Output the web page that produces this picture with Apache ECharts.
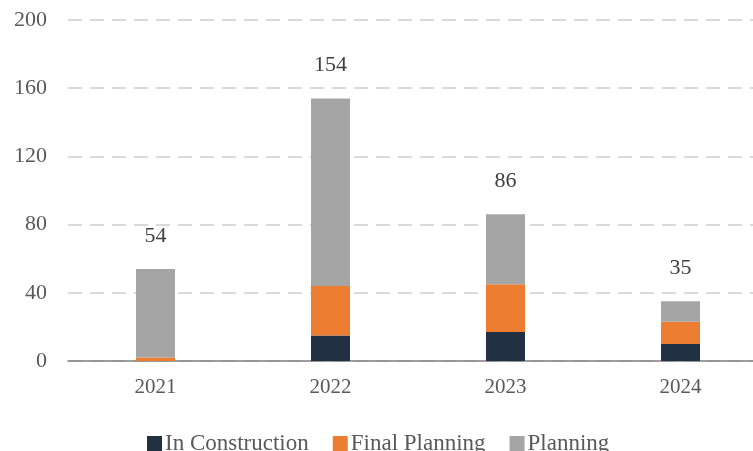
<!DOCTYPE html>
<html>
<head>
<meta charset="utf-8">
<script src="https://cdn.jsdelivr.net/npm/echarts@6/dist/echarts.min.js"></script>
<style>
  html, body { margin: 0; padding: 0; background: #ffffff; overflow: hidden; }
  /* the plot area runs a little past the right edge of the window */
  #chart { width: 770px; height: 451px; }
</style>
</head>
<body>
<div id="chart"></div>
<script>
// Project pipeline by year, split by stage
const years = ['2021', '2022', '2023', '2024'];
const inConstruction = [0, 15, 17, 10];
const finalPlanning = [2, 29, 28, 13];
const planning = [52, 110, 41, 12];
const yTicks = [0, 40, 80, 120, 160, 200];

// Stack totals shown above each column
const totals = years.map((_, i) => inConstruction[i] + finalPlanning[i] + planning[i]);

const FONT = '"Liberation Serif", "DejaVu Serif", serif';
const TEXT = '#595959';

const chart = echarts.init(document.getElementById('chart'), null, { renderer: 'canvas' });

const barBase = {
  type: 'bar',
  stack: 'stage',
  barWidth: 39,
  emphasis: { disabled: true }
};

chart.setOption({
  animation: false,
  textStyle: { fontFamily: FONT },
  grid: { left: 68, right: 2, top: 20, bottom: 90, containLabel: false },
  legend: {
    top: 427,
    left: 142,
    itemWidth: 15,
    itemHeight: 15,
    itemGap: 24,
    icon: 'rect',
    textStyle: { fontFamily: FONT, fontSize: 23, color: TEXT, padding: [0, 0, 0, -2] },
    data: ['In Construction', 'Final Planning', 'Planning']
  },
  xAxis: {
    type: 'category',
    data: years,
    axisLine: { lineStyle: { color: '#7f7f7f', width: 1.5 } },
    axisTick: { show: false },
    axisLabel: { fontFamily: FONT, fontSize: 21, color: TEXT, margin: 16 }
  },
  yAxis: {
    type: 'value',
    min: yTicks[0],
    max: yTicks[yTicks.length - 1],
    interval: yTicks[1] - yTicks[0],
    axisLine: { show: false },
    axisTick: { show: false },
    axisLabel: { fontFamily: FONT, fontSize: 22, color: TEXT, margin: 21 },
    splitLine: { lineStyle: { color: '#d9d9d9', width: 2, type: [14, 8] } }
  },
  series: [
    Object.assign({}, barBase, {
      name: 'In Construction',
      data: inConstruction,
      itemStyle: { color: '#223043' }
    }),
    Object.assign({}, barBase, {
      name: 'Final Planning',
      data: finalPlanning,
      itemStyle: { color: '#ED7D31' }
    }),
    Object.assign({}, barBase, {
      name: 'Planning',
      data: planning,
      itemStyle: { color: '#A5A5A5' },
      label: {
        show: true,
        position: 'top',
        distance: 22,
        fontFamily: FONT,
        fontSize: 22,
        color: '#404040',
        formatter: p => String(totals[p.dataIndex])
      }
    })
  ]
});
</script>
</body>
</html>
